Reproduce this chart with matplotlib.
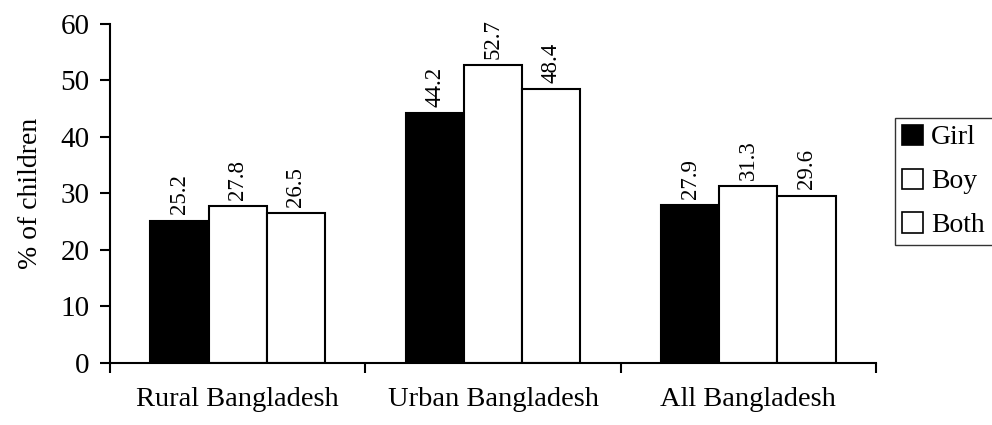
import numpy as np
import matplotlib.pyplot as plt
from matplotlib.patches import Patch

plt.rcParams['font.family'] = ['Liberation Serif', 'DejaVu Serif']

regions = ['Rural Bangladesh', 'Urban Bangladesh', 'All Bangladesh']
series = ['Girl', 'Boy', 'Both']
girl = [25.2, 44.2, 27.9]
boy = [27.8, 52.7, 31.3]
both = [26.5, 48.4, 29.6]
colors = ['black', 'white', 'white']

fig = plt.figure(figsize=(9.92, 4.25), dpi=100)
ax = fig.add_axes([0.111, 0.146, 0.772, 0.798])

x = np.arange(len(regions))
w = 0.228
for i, (vals, c, name) in enumerate(zip([girl, boy, both], colors, series)):
    pos = x + (i - 1) * w
    ax.bar(pos, vals, w, color=c, edgecolor='black', linewidth=1.5, label=name)
    for p, v in zip(pos, vals):
        ax.text(p, v + 1.1, f'{v}', rotation=90, ha='center', va='bottom', fontsize=16.5)

ax.set_xlim(-0.5, 2.5)
ax.set_ylim(0, 60)
ax.set_yticks(range(0, 61, 10))
ax.set_xticks(x)
ax.set_xticklabels(regions, fontsize=20.5)
ax.set_xticks([-0.5, 0.5, 1.5, 2.5], minor=True)
ax.tick_params(axis='x', which='major', length=0, pad=17)
ax.tick_params(axis='x', which='minor', length=7, width=1.5, direction='out')
ax.tick_params(axis='y', labelsize=21, length=7, width=1.5, direction='out', pad=8)
ax.set_ylabel('% of children', fontsize=20)
ax.yaxis.set_label_coords(-0.088, 0.5)
for s in ['top', 'right']:
    ax.spines[s].set_visible(False)
for s in ['left', 'bottom']:
    ax.spines[s].set_linewidth(1.5)

# legend frame runs past the right edge like the reference
handles = [Patch(facecolor=c, edgecolor='black', linewidth=1.2) for c in colors]
fig.legend(handles, series, loc='center left', bbox_to_anchor=(0.902, 0.573, 0.2, 0.0),
           mode='expand', frameon=True, fancybox=False, edgecolor='black', fontsize=20,
           handlelength=0.75, handleheight=0.75, handletextpad=0.3,
           borderpad=0.25, labelspacing=0.65, borderaxespad=0)

fig.savefig('out.png', dpi=100)
